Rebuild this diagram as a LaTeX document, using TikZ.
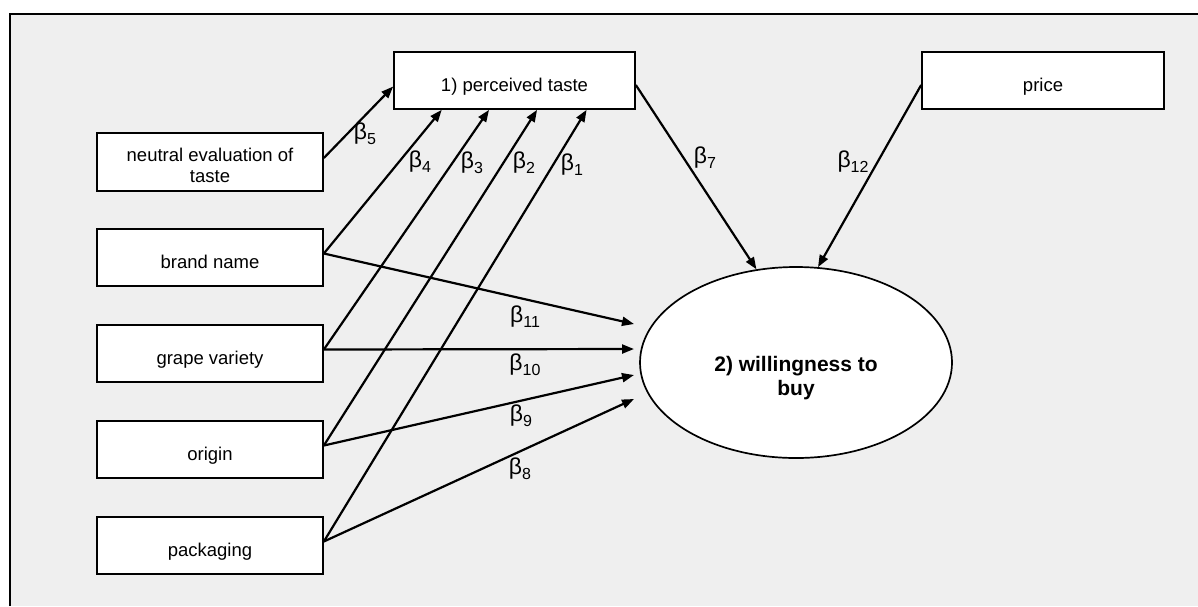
\documentclass[tikz,border=0pt]{standalone}
\usepackage{fontspec}
\setmainfont{Liberation Sans}
\usetikzlibrary{arrows.meta,shapes.geometric,calc}
\definecolor{panel}{RGB}{239,239,239}
% path coefficient label: beta with a lowered index
\newcommand{\coef}[1]{{\fontsize{23}{23}\selectfont β\raisebox{-5pt}{\fontsize{16}{16}\selectfont #1}}}

\begin{document}
\begin{tikzpicture}[x=1pt,y=-1pt,
  basebox/.style={draw, fill=white, line width=1.7pt, inner sep=0pt,
    minimum width=226pt, minimum height=57pt,
    font=\fontsize{18.5}{21}\selectfont, align=center},
  onebox/.style={basebox, text height=22pt, text depth=0pt},
  arr/.style={line width=2.2pt, -{Triangle[length=12pt,width=9pt]}},
  coeflabel/.style={inner sep=0pt}
]
\useasboundingbox (0,0) rectangle (1198,606);

% grey panel with its top and left border
\fill[panel] (10,14) rectangle (1198,606);
\draw[line width=1.7pt] (10,606) -- (10,14) -- (1198,14);

% predictors
\node[basebox, minimum height=58pt, text height=40pt, text depth=0pt] (neutral) at (210,162) {neutral evaluation of\\taste};
\node[onebox] (brand)  at (210,257.5) {brand name};
\node[onebox] (grape)  at (210,353.5) {grape variety};
\node[onebox] (origin) at (210,449.5) {origin};
\node[onebox] (pack)   at (210,545.5) {packaging};

% upper boxes
\node[onebox, minimum width=241pt] (perc)  at (514.5,80.5) {1) perceived taste};
\node[onebox, minimum width=242pt] (price) at (1043,80.5) {price};

% outcome
\node[draw, fill=white, ellipse, line width=1.7pt, minimum width=312pt,
      minimum height=191pt, inner sep=0pt] (wtb) at (796,362.5) {};
\node[font=\fontsize{21}{24.5}\selectfont\bfseries, align=center, inner sep=0pt]
      (wtbtext) at (796,378) {2) willingness to\\buy};

% free arrow ends just left of the ellipse
\coordinate (e11) at (634,324);
\coordinate (e10) at (634,349);
\coordinate (e9)  at (634,375);
\coordinate (e8)  at (634,399);

% paths into perceived taste
\draw[arr] ([yshift=4pt]neutral.east) -- ([yshift=-6pt]perc.west);
\draw[arr] ([yshift=4pt]brand.east)  -- ($(perc.south west)!0.2!(perc.south east)$);
\draw[arr] ([yshift=4pt]grape.east)  -- ($(perc.south west)!0.395!(perc.south east)$);
\draw[arr] ([yshift=4pt]origin.east) -- ($(perc.south west)!0.593!(perc.south east)$);
\draw[arr] ([yshift=4pt]pack.east)   -- ($(perc.south west)!0.797!(perc.south east)$);

% paths into willingness to buy
\draw[arr] ([yshift=-4.5pt]perc.east)  -- (wtb.113.5);
\draw[arr] ([yshift=-4.5pt]price.west) -- (wtb.77);
\draw[arr] ([yshift=4pt]brand.east)  -- (e11);
\draw[arr] ([yshift=4pt]grape.east)  -- (e10);
\draw[arr] ([yshift=4pt]origin.east) -- (e9);
\draw[arr] ([yshift=4pt]pack.east)   -- (e8);

% coefficient labels
\node[coeflabel] (b5)  at (365,134) {\coef{5}};
\node[coeflabel] (b4)  at (420,162) {\coef{4}};
\node[coeflabel] (b3)  at (472,163) {\coef{3}};
\node[coeflabel] (b2)  at (524,163) {\coef{2}};
\node[coeflabel] (b1)  at (572,165) {\coef{1}};
\node[coeflabel] (b7)  at (705,158) {\coef{7}};
\node[coeflabel] (b12) at (853,162) {\coef{12}};
\node[coeflabel] (b11) at (525,317) {\coef{11}};
\node[coeflabel] (b10) at (525,365) {\coef{10}};
\node[coeflabel] (b9)  at (521,416) {\coef{9}};
\node[coeflabel] (b8)  at (520,469) {\coef{8}};
\end{tikzpicture}
\end{document}
